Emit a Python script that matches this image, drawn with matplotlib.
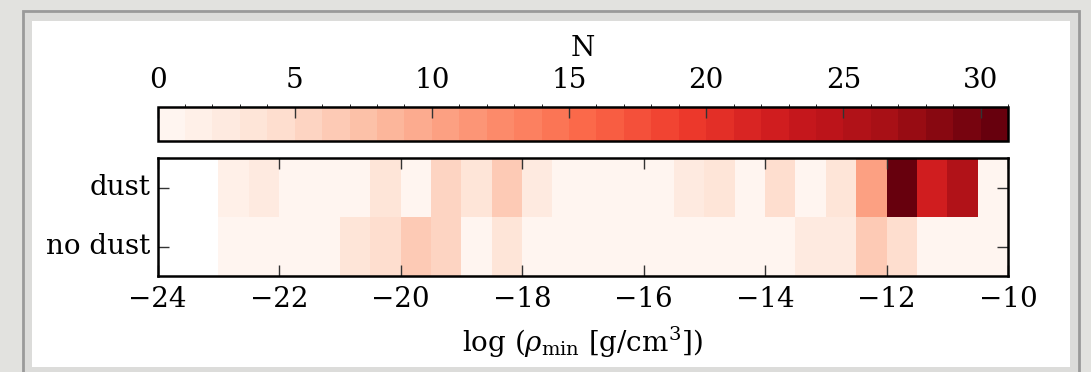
import numpy as np
import matplotlib
matplotlib.use("Agg")
import matplotlib.pyplot as plt
from matplotlib.colors import BoundaryNorm, ListedColormap
from matplotlib.patches import Rectangle

# ---- data ----
categories = ["dust", "no dust"]
bin_left_edges = [-23.0, -22.5, -22.0, -21.5, -21.0, -20.5, -20.0, -19.5, -19.0, -18.5,
                  -18.0, -17.5, -17.0, -16.5, -16.0, -15.5, -15.0, -14.5, -14.0, -13.5,
                  -13.0, -12.5, -12.0, -11.5, -11.0, -10.5]
bin_width = 0.5
counts_dust = [1, 2, 0, 0, 0, 3, 0, 5, 3, 6,
               2, 0, 0, 0, 0, 2, 3, 0, 4, 0,
               3, 10, 30, 22, 25, 0]
counts_nodust = [0, 0, 0, 0, 3, 4, 6, 5, 0, 3,
                 0, 0, 0, 0, 0, 0, 0, 0, 0, 2,
                 2, 6, 4, 0, 0, 0]
x_ticks = [-24, -22, -20, -18, -16, -14, -12, -10]
cbar_ticks = [0, 5, 10, 15, 20, 25, 30]
n_max = 31

plt.rcParams["font.family"] = ["DejaVu Serif"]
plt.rcParams["mathtext.fontset"] = "dejavuserif"

FS = 20
W, H = 1091, 372
fig = plt.figure(figsize=(W / 100, H / 100), dpi=100)
fig.patch.set_facecolor("#e2e2df")

def px_rect(x0, y0, x1, y1, **kw):
    return Rectangle((x0 / W, 1 - y1 / H), (x1 - x0) / W, (y1 - y0) / H,
                     transform=fig.transFigure, **kw)

fig.patches.append(px_rect(23, 11, 1079, 380, facecolor="#dcdcda", edgecolor="#9a9a9a",
                           linewidth=2, zorder=-20))
fig.patches.append(px_rect(32, 21, 1070, 367, facecolor="white", edgecolor="none", zorder=-10))

cmap = ListedColormap(plt.get_cmap("Reds")(np.linspace(0, 1, n_max)))
norm = BoundaryNorm(np.arange(n_max + 1), n_max)

x_edges = np.append(np.array(bin_left_edges), bin_left_edges[-1] + bin_width)
Z = np.array([counts_dust, counts_nodust], dtype=float)

ax = fig.add_axes([157.5 / W, 1 - 276 / H, 850.5 / W, 118 / H])
ax.set_facecolor("none")
mesh = ax.pcolormesh(x_edges, np.arange(len(categories) + 1), Z, cmap=cmap, norm=norm)
ax.set_xlim(-24, -10)
ax.set_ylim(len(categories), 0)
ax.set_xticks(x_ticks)
ax.set_xticklabels([f"\u2212{abs(t)}" for t in x_ticks])
ax.set_yticks(np.arange(len(categories)) + 0.5)
ax.set_yticklabels(categories)
ax.tick_params(axis="x", pad=7)
ax.tick_params(axis="y", pad=5)
ax.tick_params(direction="in", length=8, width=1, top=True, right=True, labelsize=FS,
               colors="#333333", labelcolor="black")
for lbl in ax.get_yticklabels():
    lbl.set_va("center")
for s in ax.spines.values():
    s.set_linewidth(1.8)
ax.set_xlabel(r"log ($\rho_{\rm min}$ [g/cm$^3$])", fontsize=FS, labelpad=9)

cax = fig.add_axes([157.5 / W, 1 - 141 / H, 850.5 / W, 34 / H])
cb = fig.colorbar(mesh, cax=cax, orientation="horizontal", ticks=cbar_ticks)
cax.set_xlim(0, n_max)
cax.xaxis.set_ticks_position("top")
cax.xaxis.set_label_position("top")
cax.tick_params(direction="in", length=8, width=1, labelsize=FS, pad=9,
                colors="#333333", labelcolor="black")
cb.outline.set_linewidth(1.8)
cb.set_label("N", fontsize=FS, labelpad=8)

fig.savefig("out.png", dpi=100, facecolor=fig.get_facecolor())
